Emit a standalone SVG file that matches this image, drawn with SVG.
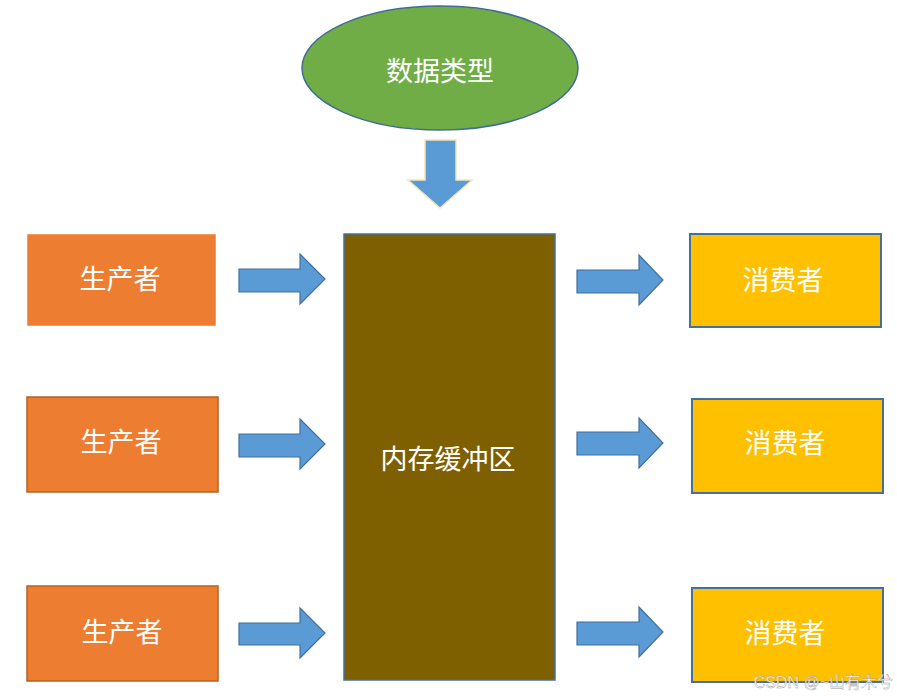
<svg xmlns="http://www.w3.org/2000/svg" width="897" height="697" viewBox="0 0 897 697">
<style>
.t{font-family:"Noto Sans CJK SC","Noto Sans",sans-serif;font-size:27px;fill:#ffffff;text-anchor:middle;dominant-baseline:central}
.prod{fill:#ed7d31;stroke:#b4621f;stroke-width:1.5}
.cons{fill:#ffc000;stroke:#41719c;stroke-width:2}
.arr{fill:#5b9bd5;stroke:#41719c;stroke-width:1.2}
</style>
<rect width="897" height="697" fill="#ffffff"/>
<g id="datatype">
<ellipse cx="440" cy="68" rx="138" ry="62" fill="#70ad47" stroke="#3f6e8f" stroke-width="1.5"/>
<text class="t" x="440" y="69">数据类型</text>
</g>
<g id="buffer">
<rect x="344" y="234" width="211" height="446" fill="#7f6000" stroke="#41719c" stroke-width="1.5"/>
<text class="t" x="448" y="457">内存缓冲区</text>
</g>
<g id="producer1"><rect class="prod" x="28" y="235" width="187" height="90" style="stroke:#ed7d31"/><text class="t" x="120" y="277">生产者</text></g>
<g id="producer2"><rect class="prod" x="27" y="397" width="191" height="95"/><text class="t" x="121" y="440">生产者</text></g>
<g id="producer3"><rect class="prod" x="27" y="586" width="191" height="95"/><text class="t" x="122" y="630">生产者</text></g>
<g id="consumer1"><rect class="cons" x="690" y="234" width="191" height="93"/><text class="t" x="783" y="278">消费者</text></g>
<g id="consumer2"><rect class="cons" x="692" y="399" width="191" height="94"/><text class="t" x="785" y="441">消费者</text></g>
<g id="consumer3"><rect class="cons" x="692" y="588" width="191" height="94"/><text class="t" x="785" y="631">消费者</text></g>
<g id="connectors">
<polygon points="425,140 456,140 456,180 472,180 440,208 408,180 425,180" fill="#5b9bd5" stroke="#f3e3b5" stroke-width="1.5"/>
<polygon class="arr" points="239,269 300,269 300,254 325,279 300,304 300,292 239,292"/>
<polygon class="arr" points="239,434 300,434 300,419 325,444 300,469 300,457 239,457"/>
<polygon class="arr" points="239,623 300,623 300,608 325,633 300,658 300,645 239,645"/>
<polygon class="arr" points="577,270 639,270 639,255 663,280 639,305 639,293 577,293"/>
<polygon class="arr" points="577,432 639,432 639,418 663,443 639,468 639,455 577,455"/>
<polygon class="arr" points="577,622 639,622 639,607 663,632 639,657 639,645 577,645"/>
</g>
<text x="893" y="688" style="font-family:'Liberation Sans','Noto Sans CJK SC',sans-serif;font-size:16px;fill:#ffffff;fill-opacity:0.85;stroke:#9a9a9a;stroke-width:0.4;text-anchor:end">CSDN @~山有木兮</text>
</svg>
